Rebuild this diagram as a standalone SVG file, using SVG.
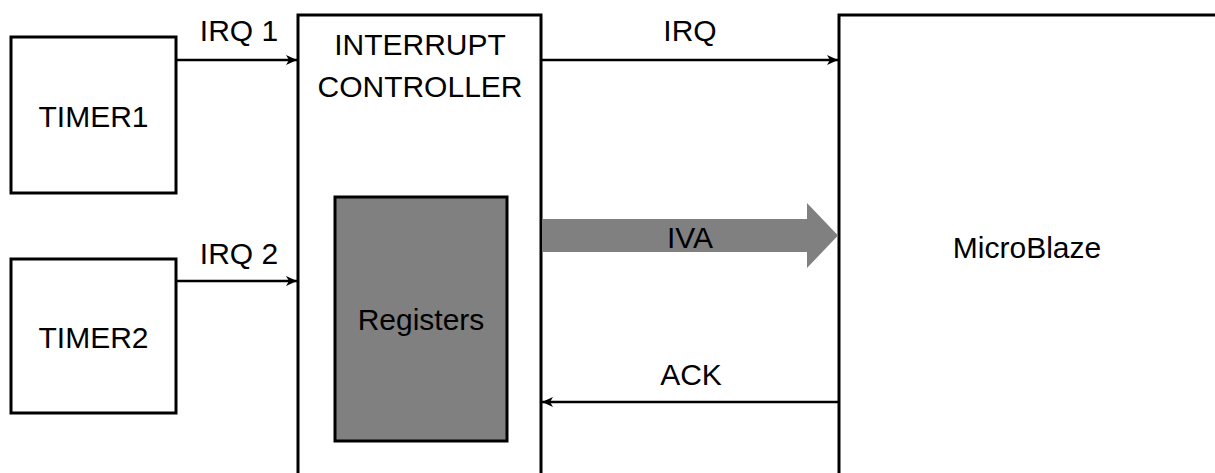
<svg xmlns="http://www.w3.org/2000/svg" width="1215" height="473" viewBox="0 0 1215 473">
<style>
.box{fill:#fff;stroke:#000;stroke-width:3}
.reg{fill:#808080;stroke:#000;stroke-width:3}
.t{font-family:"Liberation Sans",Arial,sans-serif;font-size:30px;fill:#000;text-anchor:middle}
.c{fill:none;stroke:#000;stroke-width:2.5}
</style>
<defs>
<marker id="ah" markerWidth="12" markerHeight="10" refX="11" refY="5" orient="auto" markerUnits="userSpaceOnUse">
<path d="M0,0 L11,5 L0,10 L3,5 Z" fill="#000"/>
</marker>
</defs>
<g id="timer1">
<rect class="box" x="11" y="37" width="165" height="156"/>
<text class="t" x="93.5" y="127">TIMER1</text>
</g>
<g id="timer2">
<rect class="box" x="11" y="259" width="165" height="154"/>
<text class="t" x="93.5" y="348">TIMER2</text>
</g>
<g id="intc">
<rect class="box" x="298" y="15" width="243" height="480"/>
<text class="t" x="420" y="55">INTERRUPT</text>
<text class="t" x="420" y="97">CONTROLLER</text>
</g>
<g id="registers">
<rect class="reg" x="335" y="197" width="172" height="244"/>
<text class="t" x="421" y="330">Registers</text>
</g>
<g id="microblaze">
<rect class="box" x="839" y="15" width="420" height="480"/>
<text class="t" x="1027" y="258">MicroBlaze</text>
</g>
<g id="connectors">
<line class="c" x1="176" y1="60" x2="297" y2="60" marker-end="url(#ah)"/>
<line class="c" x1="176" y1="281" x2="297" y2="281" marker-end="url(#ah)"/>
<line class="c" x1="541" y1="60" x2="838" y2="60" marker-end="url(#ah)"/>
<line class="c" x1="839" y1="402" x2="542" y2="402" marker-end="url(#ah)"/>
<polygon fill="#808080" points="542,219 807,219 807,203 838,235.5 807,268 807,252 542,252"/>
<text class="t" x="239" y="41">IRQ 1</text>
<text class="t" x="239" y="264">IRQ 2</text>
<text class="t" x="690" y="41">IRQ</text>
<text class="t" x="690" y="248">IVA</text>
<text class="t" x="691" y="385">ACK</text>
</g>
</svg>
